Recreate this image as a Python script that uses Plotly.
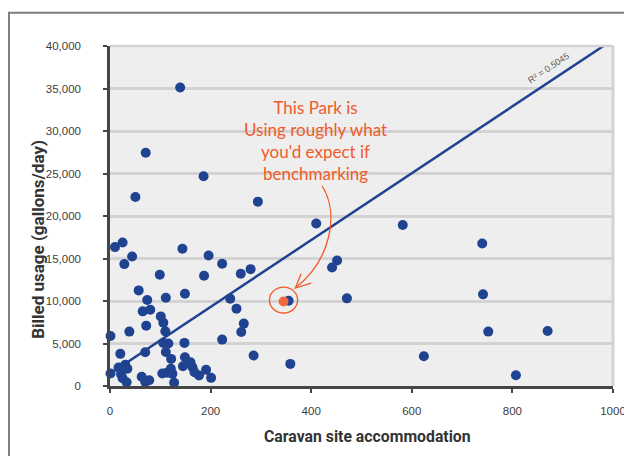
import plotly.graph_objects as go

# Caravan site accommodation (x) vs billed usage in gallons/day (y)
site_x = [10, 25, 28.5, 44, 144, 196, 99, 187, 57, 74, 111, 149, 65, 80, 101, 106, 72, 110,
          38.5, 1, 106, 116, 148, 70, 111, 20.5, 121.5, 149, 160, 145, 164, 30.5, 17, 34.5,
          121, 104, 113, 124, 168, 177, 191, 1, 22, 25, 33, 63, 70, 78, 127.5, 201,
          223, 260, 279.5, 239, 251.5, 266, 261, 223, 285.5, 358.5, 355,
          139.5, 71, 186, 50.5, 294, 410, 582, 740, 451.5, 441.5, 471, 741.6, 752, 624, 870, 807]
usage_y = [16340, 16880, 14340, 15230, 16140, 15350, 13090, 12970, 11250, 10110, 10390, 10860,
           8780, 8980, 8190, 7450, 7100, 6430, 6400, 5890, 5070, 4990, 5070, 3970, 4010, 3780,
           3190, 3380, 2800, 2330, 2210, 2490, 2170, 2020, 2020, 1470, 1550, 1430, 1620, 1230,
           1900, 1470, 1390, 920, 450, 1080, 490, 680, 380, 960,
           14380, 13200, 13750, 10270, 9100, 7340, 6360, 5460, 3580, 2600, 10030,
           35120, 27440, 24670, 22240, 21690, 19110, 18950, 16760, 14770, 13950, 10310, 10780,
           6400, 3500, 6480, 1270]

# highlighted park
park_x = [345]
park_y = [9950]

# linear trendline (as shown on chart)
trend_slope = 39.3
trend_intercept = 1450
trend_x = [0, 1000]
trend_y = [trend_intercept + trend_slope * v for v in trend_x]
r2_label = "R² = 0.5045"

x_ticks = [0, 200, 400, 600, 800, 1000]
y_ticks = [0, 5000, 10000, 15000, 20000, 25000, 30000, 35000, 40000]

BLUE = "#1f4391"
ORANGE = "#f15a29"
GRID = "#d3d3d3"
AXIS = "#454545"

fig = go.Figure()
fig.add_trace(go.Scatter(x=site_x, y=usage_y, mode="markers",
                         marker=dict(color=BLUE, size=10, line=dict(width=0)),
                         cliponaxis=False, showlegend=False, hoverinfo="x+y"))
fig.add_trace(go.Scatter(x=trend_x, y=trend_y, mode="lines",
                         line=dict(color=BLUE, width=2.5), showlegend=False, hoverinfo="skip"))
fig.add_trace(go.Scatter(x=park_x, y=park_y, mode="markers",
                         marker=dict(color="#f26a3c", size=10, line=dict(width=0)),
                         cliponaxis=False, showlegend=False))

fig.update_layout(
    width=632, height=456,
    margin=dict(l=102, r=27, t=38, b=78, autoexpand=False),
    paper_bgcolor="white", plot_bgcolor="#eeeeee",
    font=dict(family="Liberation Sans", size=11, color="#404040"),
)
fig.update_xaxes(range=[0, 1000], tickvals=x_ticks, showgrid=False, zeroline=False,
                 showline=True, linecolor=AXIS, linewidth=2.5, automargin=False,
                 ticks="outside", ticklen=4, tickwidth=2, tickcolor=AXIS,
                 ticklabelstandoff=8, tickfont=dict(size=11.5, color="#404040"))
fig.update_yaxes(range=[0, 40000], tickvals=y_ticks, tickformat=",", showgrid=True,
                 gridcolor=GRID, gridwidth=2.5, zeroline=False, automargin=False,
                 showline=True, linecolor=AXIS, linewidth=2.5,
                 ticks="outside", ticklen=4, tickwidth=2, tickcolor=AXIS,
                 ticklabelstandoff=20, tickfont=dict(size=11.5, color="#404040"))

shapes = [
    # outer frame
    dict(type="rect", xref="paper", yref="paper", x0=-0.2008, x1=1.2, y0=-0.4, y1=1.098,
         line=dict(color="#7f7f7f", width=2), fillcolor="rgba(0,0,0,0)", layer="below"),
    # plot area right/top border
    dict(type="line", xref="paper", yref="paper", x0=1, x1=1, y0=0, y1=1,
         line=dict(color=GRID, width=3)),
    dict(type="line", xref="paper", yref="paper", x0=0, x1=1, y0=1, y1=1,
         line=dict(color=GRID, width=2.5)),
    # circle round the highlighted park
    dict(type="circle", xref="x", yref="y", x0=317, x1=373, y0=8590, y1=11640,
         line=dict(color=ORANGE, width=1.3)),
    # curved hand-drawn arrow
    dict(type="path", xref="x", yref="y",
         path="M 421.7,23530 C 456,20360 440,14850 368.5,11530",
         line=dict(color=ORANGE, width=1.3)),
    dict(type="path", xref="x", yref="y",
         path="M 400,12100 L 368.5,11530 L 380,13200",
         line=dict(color=ORANGE, width=1.3)),
]
fig.update_layout(shapes=shapes)

annotations = [
    dict(text="This Park is<br>Using roughly what<br>you'd expect if<br>benchmarking",
         x=408, y=28930, xref="x", yref="y", showarrow=False,
         font=dict(family="Lato", size=17, color=ORANGE), align="center"),
    dict(text=r2_label, x=872, y=37380, xref="x", yref="y", showarrow=False,
         textangle=-33.7, font=dict(family="Liberation Sans", size=9, color="#595959")),
    dict(text="Caravan site accommodation", x=0.512, y=-0.148, xref="paper", yref="paper",
         showarrow=False, font=dict(family="Roboto", size=15.8, color="#333333", weight="bold"),
         xanchor="center", yanchor="middle"),
    dict(text="Billed usage (gallons/day)", x=-0.143, y=0.43, xref="paper", yref="paper",
         showarrow=False, textangle=-90,
         font=dict(family="Roboto", size=17, color="#333333", weight="bold"),
         xanchor="center", yanchor="middle"),
]
fig.update_layout(annotations=annotations)

fig.write_html("out.html")
